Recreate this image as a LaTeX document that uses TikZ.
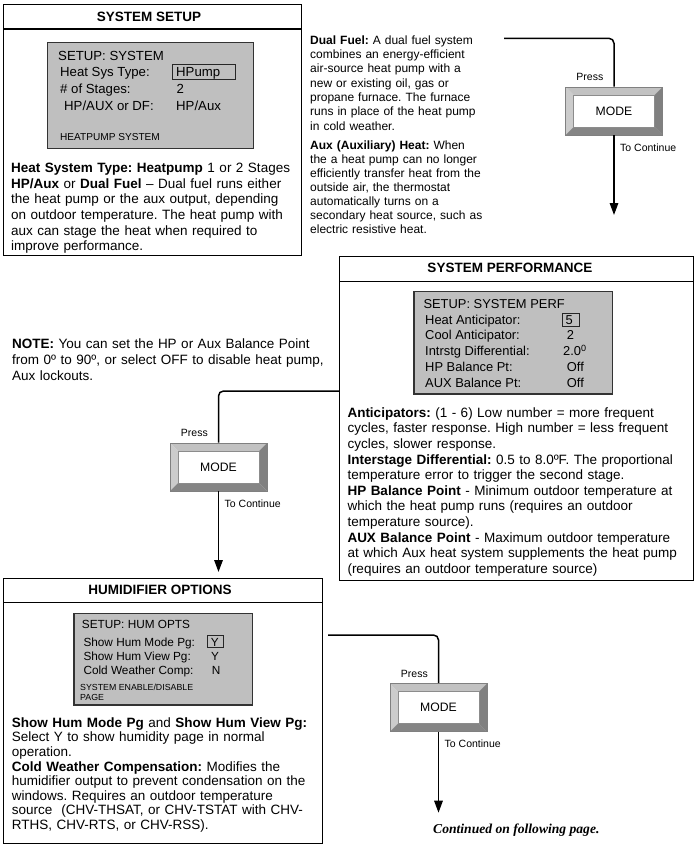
\documentclass[tikz,border=0pt]{standalone}
\usepackage{fontspec}
\setmainfont{Liberation Sans}
\newfontfamily\timesfont{Liberation Serif}
\usetikzlibrary{positioning}
\usetikzlibrary{calc}
\usetikzlibrary{arrows.meta}
\frenchspacing

\begin{document}
\begin{tikzpicture}[
    x=1pt, y=-1pt,                       % one unit per pixel, y grows downwards
    every node/.style={inner sep=0pt},
    ]
% -------------------------------------------------
\tikzset{
  panel/.style={draw, line width=1.1pt, anchor=north west},
  heading/.style={font=\bfseries\fontsize{13.5}{16}\selectfont},
  screen/.style={draw=black!80, line width=1.3pt, fill=black!25, anchor=north west},
  pick/.style={draw=black!85, line width=1.1pt, anchor=north west},
  txt/.style={anchor=base west},
  para/.style={anchor=base west, align=left, text width=350pt},
  small/.style={anchor=base west, font=\fontsize{10.5}{12}\selectfont},
  modekey/.style={rectangle, draw=black!50, line width=0.6pt, fill=white,
    minimum width=97pt, minimum height=48pt, font=\fontsize{12.2}{14}\selectfont,
    path picture={
      \coordinate (kNW) at (path picture bounding box.north west);
      \coordinate (kNE) at (path picture bounding box.north east);
      \coordinate (kSW) at (path picture bounding box.south west);
      \coordinate (kSE) at (path picture bounding box.south east);
      \fill[black!24] (kNW) -- (kNE) -- ([xshift=-8pt,yshift=-8pt]kNE) -- ([xshift=8pt,yshift=-8pt]kNW) -- cycle;
      \fill[black!20] (kNW) -- ([xshift=8pt,yshift=-8pt]kNW) -- ([xshift=8pt,yshift=8pt]kSW) -- (kSW) -- cycle;
      \fill[black!50] (kNE) -- (kSE) -- ([xshift=-8pt,yshift=8pt]kSE) -- ([xshift=-8pt,yshift=-8pt]kNE) -- cycle;
      \fill[black!48] (kSW) -- (kSE) -- ([xshift=-8pt,yshift=8pt]kSE) -- ([xshift=8pt,yshift=8pt]kSW) -- cycle;
      \draw[black!45, line width=0.5pt] ([xshift=8pt,yshift=-8pt]kNW) rectangle ([xshift=-8pt,yshift=8pt]kSE);
    }},
  wire/.style={draw, line width=1.5pt, rounded corners=5pt},
  line/.style={wire, -{Triangle[length=12pt,width=8.5pt]}}
}
\newcommand\bodyfont{\fontsize{13.5}{15.6}\selectfont}
% -------------------------------------------------
\useasboundingbox (0,0) rectangle (696,859);

% System setup panel
\node [panel, minimum width=297.5pt, minimum height=251pt] (setup) at (3,4) {};
\draw [line width=1.1pt] ([yshift=-25pt]setup.north west) -- ([yshift=-25pt]setup.north east);
\node [heading] at (149,16.7) {SYSTEM SETUP};
\node [screen, minimum width=206pt, minimum height=106pt] (scrsys) at (47,42) {};
\node [pick, minimum width=63pt, minimum height=15pt] (pksys) at (172,64) {};
\begin{scope}[every node/.append style={font=\fontsize{13.2}{14}\selectfont}]
\node [txt] at (58,60) {SETUP: SYSTEM};
\node [txt] at (60,76.5) {Heat Sys Type:};
\node [txt] at (60,93) {\# of Stages:};
\node [txt] at (64,110) {HP/AUX or DF:};
\node [txt] at (176,76.5) {HPump};
\node [txt] at (176.5,93) {2};
\node [txt] at (176,110) {HP/Aux};
\end{scope}
\node [txt, font=\fontsize{10.1}{12}\selectfont] at (60,140) {HEATPUMP SYSTEM};
\node [para, font=\bodyfont] at (11,172.7) {%
\textbf{Heat System Type: Heatpump} 1 or 2 Stages\\
\textbf{HP/Aux} or \textbf{Dual Fuel} -- Dual fuel runs either\\
the heat pump or the aux output, depending\\
on outdoor temperature. The heat pump with\\
aux can stage the heat when required to\\
improve performance.};

% Notes beside the setup panel
\node [para, font=\fontsize{12}{14.3}\selectfont] at (310,44.3) {%
\textbf{Dual Fuel:} A dual fuel system\\
combines an energy-efficient\\
air-source heat pump with a\\
new or existing oil, gas or\\
propane furnace. The furnace\\
runs in place of the heat pump\\
in cold weather.};
\node [para, font=\fontsize{12}{14.05}\selectfont] at (310,149) {%
\textbf{Aux (Auxiliary) Heat:} When\\
the a heat pump can no longer\\
efficiently transfer heat from the\\
outside air, the thermostat\\
automatically turns on a\\
secondary heat source, such as\\
electric resistive heat.};

% System performance panel
\node [panel, minimum width=354pt, minimum height=324pt] (perf) at (339.3,256) {};
\draw [line width=1.1pt] ([yshift=-25.7pt]perf.north west) -- ([yshift=-25.7pt]perf.north east);
\node [heading] at (510,268) {SYSTEM PERFORMANCE};
\node [screen, minimum width=198.4pt, minimum height=102.3pt] (scrperf) at (413.3,291) {};
\node [pick, minimum width=17.6pt, minimum height=12.7pt] (pkperf) at (561.7,313.3) {};
\begin{scope}[every node/.append style={font=\fontsize{12.9}{14}\selectfont}]
\node [txt] at (423.3,308) {SETUP: SYSTEM PERF};
\node [txt] at (425,324) {Heat Anticipator:};
\node [txt] at (425,339.5) {Cool Anticipator:};
\node [txt] at (425,355.5) {Intrstg Differential:};
\node [txt] at (425,371) {HP Balance Pt:};
\node [txt] at (425,387) {AUX Balance Pt:};
\node [txt] at (565.5,324) {5};
\node [txt] at (566.7,339.5) {2};
\node [txt] at (563,355.5) {2.0\textsuperscript{0}};
\node [txt] at (566.7,371) {Off};
\node [txt] at (566.7,387) {Off};
\end{scope}
\node [para, font=\bodyfont] at (347.3,417.3) {%
\textbf{Anticipators:} (1 - 6) Low number = more frequent\\
cycles, faster response. High number = less frequent\\
cycles, slower response.\\
\textbf{Interstage Differential:} 0.5 to 8.0ºF. The proportional\\
temperature error to trigger the second stage.\\
\textbf{HP Balance Point} - Minimum outdoor temperature at\\
which the heat pump runs (requires an outdoor\\
temperature source).\\
\textbf{AUX Balance Point} - Maximum outdoor temperature\\
at which Aux heat system supplements the heat pump\\
(requires an outdoor temperature source)};

% Balance point note
\node [para, font=\fontsize{13.5}{15.9}\selectfont] at (12,348.3) {%
\textbf{NOTE:} You can set the HP or Aux Balance Point\\
from 0º to 90º, or select OFF to disable heat pump,\\
Aux lockouts.};

% Humidifier options panel
\node [panel, minimum width=318.7pt, minimum height=265pt] (hum) at (3,578.3) {};
\draw [line width=1.1pt] ([yshift=-24pt]hum.north west) -- ([yshift=-24pt]hum.north east);
\node [heading] at (160,590) {HUMIDIFIER OPTIONS};
\node [screen, minimum width=178.4pt, minimum height=91.6pt] (scrhum) at (73.3,612.7) {};
\node [pick, minimum width=15.4pt, minimum height=12.3pt] (pkhum) at (207.3,635) {};
\begin{scope}[every node/.append style={font=\fontsize{11.8}{14}\selectfont}]
\node [txt] at (81.7,628.7) {SETUP: HUM OPTS};
\node [txt] at (83.3,646) {Show Hum Mode Pg:};
\node [txt] at (83.3,660) {Show Hum View Pg:};
\node [txt] at (83.3,674) {Cold Weather Comp:};
\node [txt] at (210.7,646) {Y};
\node [txt] at (211,660) {Y};
\node [txt] at (211.7,674) {N};
\end{scope}
\node [txt, font=\fontsize{8.8}{10}\selectfont] at (80,690.7) {SYSTEM ENABLE/DISABLE};
\node [txt, font=\fontsize{8.8}{10}\selectfont] at (80,700) {PAGE};
\node [para, font=\fontsize{13.5}{14.6}\selectfont] at (11.7,727.3) {%
\textbf{Show Hum Mode Pg} and \textbf{Show Hum View Pg:}\\
Select Y to show humidity page in normal\\
operation.\\
\textbf{Cold Weather Compensation:} Modifies the\\
humidifier output to prevent condensation on the\\
windows. Requires an outdoor temperature\\
source\ \ (CHV-THSAT, or CHV-TSTAT with CHV-\\
RTHS, CHV-RTS, or CHV-RSS).};

% MODE keys and flow
\node [modekey] (mode1) at (614,111) {MODE};
\node [modekey] (mode2) at (218.5,467) {MODE};
\node [modekey] (mode3) at (438.5,707.5) {MODE};

\coordinate (from1) at (504,38.3);
\coordinate (to1) at (614,215);
\coordinate (from2) at (perf.west |- {(0,391)});
\coordinate (to2) at (218.5,572);
\coordinate (from3) at (328,635);
\coordinate (to3) at (438.5,812.7);

\path [wire] (from1) -| (mode1.north);
\path [line] (mode1.south) -- (to1);
\path [wire] (from2) -| (mode2.north);
\path [line] (mode2.south) -- (to2);
\path [wire] (from3) -| (mode3.north);
\path [line] (mode3.south) -- (to3);

\foreach \k in {mode1,mode2,mode3} {
  \node [small, anchor=base east] at ([xshift=-10.5pt,yshift=6pt]\k.north) {Press};
  \node [small] at ([xshift=6pt,yshift=-16pt]\k.south) {To Continue};
}

\node [txt, font=\timesfont\bfseries\itshape\fontsize{13.6}{15}\selectfont] at (433,833) {Continued on following page.};

\end{tikzpicture}
\end{document}
